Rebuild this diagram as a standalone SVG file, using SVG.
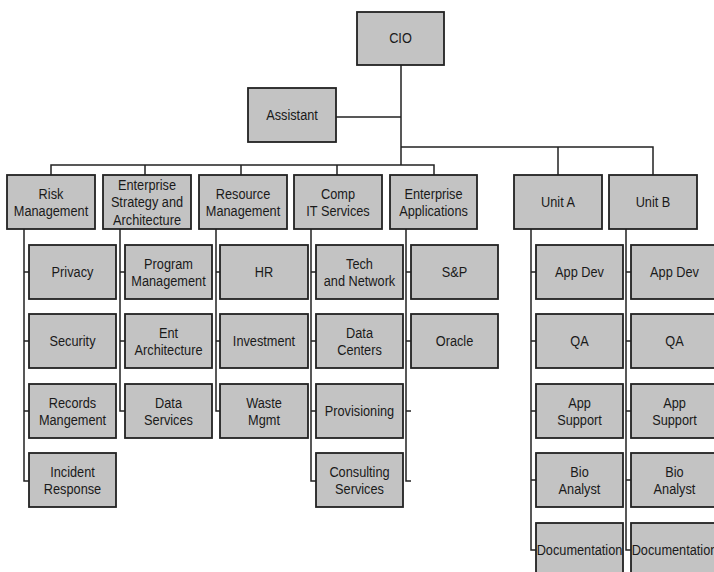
<svg xmlns="http://www.w3.org/2000/svg" width="714" height="572" viewBox="0 0 714 572">
<style>
.b{fill:#c3c3c3;stroke:#222;stroke-width:1.8}
.c{fill:none;stroke:#222;stroke-width:1.5}
text{font-family:'Liberation Sans',Arial,sans-serif;font-size:15px;fill:#1a1a1a;text-anchor:middle;transform-box:fill-box;transform-origin:center;transform:scaleX(0.85)}
</style>
<rect width="714" height="572" fill="#fff"/>
<g id="connectors" class="c">
<path d="M401 65 V165 M336 117 H401 M401 147 H653 V175 M558 147 V175"/>
<path d="M51 175 V165 H434 V175 M145 165 V175 M241 165 V175 M337 165 V175"/>
<path d="M24 229 V481 H29 M24 272 H29 M24 341 H29 M24 411 H29"/>
<path d="M120 229 V411 H125 M120 272 H125 M120 341 H125"/>
<path d="M216 229 V411 H220 M216 272 H220 M216 341 H220"/>
<path d="M311 229 V481 H316 M311 272 H316 M311 341 H316 M311 411 H316"/>
<path d="M406 229 V481 H411 M406 272 H411 M406 341 H411 M406 411 H411"/>
<path d="M531 229 V550 H536 M531 272 H536 M531 341 H536 M531 411 H536 M531 480 H536"/>
<path d="M626 229 V550 H631 M626 272 H631 M626 341 H631 M626 411 H631 M626 480 H631"/>
</g>
<g id="cio"><rect class="b" x="357" y="12" width="87" height="53"/><text x="400.5" y="43.5">CIO</text></g>
<g id="assistant"><rect class="b" x="248" y="88" width="88" height="54"/><text x="292" y="120">Assistant</text></g>

<g id="risk"><rect class="b" x="7" y="175" width="88" height="54"/><text x="51" y="199">Risk</text><text x="51" y="216.5">Management</text></g>
<g id="esa"><rect class="b" x="103" y="175" width="88" height="54"/><text x="147" y="190">Enterprise</text><text x="147" y="207.5">Strategy and</text><text x="147" y="225">Architecture</text></g>
<g id="resource"><rect class="b" x="199" y="175" width="88" height="54"/><text x="243" y="199">Resource</text><text x="243" y="216.5">Management</text></g>
<g id="compit"><rect class="b" x="294" y="175" width="88" height="54"/><text x="338" y="199">Comp</text><text x="338" y="216.5">IT Services</text></g>
<g id="entapps"><rect class="b" x="390" y="175" width="87" height="54"/><text x="433.5" y="199">Enterprise</text><text x="433.5" y="216.5">Applications</text></g>
<g id="unita"><rect class="b" x="514" y="175" width="88" height="54"/><text x="558" y="207">Unit A</text></g>
<g id="unitb"><rect class="b" x="609" y="175" width="88" height="54"/><text x="653" y="207">Unit B</text></g>

<g id="privacy"><rect class="b" x="29" y="245" width="87" height="54"/><text x="72.5" y="277">Privacy</text></g>
<g id="security"><rect class="b" x="29" y="314" width="87" height="54"/><text x="72.5" y="346">Security</text></g>
<g id="records"><rect class="b" x="29" y="384" width="87" height="54"/><text x="72.5" y="408">Records</text><text x="72.5" y="425.5">Mangement</text></g>
<g id="incident"><rect class="b" x="29" y="453" width="87" height="54"/><text x="72.5" y="477">Incident</text><text x="72.5" y="494.5">Response</text></g>

<g id="program"><rect class="b" x="125" y="245" width="87" height="54"/><text x="168.5" y="269">Program</text><text x="168.5" y="286.5">Management</text></g>
<g id="entarch"><rect class="b" x="125" y="314" width="87" height="54"/><text x="168.5" y="338">Ent</text><text x="168.5" y="355.5">Architecture</text></g>
<g id="dataservices"><rect class="b" x="125" y="384" width="87" height="54"/><text x="168.5" y="408">Data</text><text x="168.5" y="425.5">Services</text></g>

<g id="hr"><rect class="b" x="220" y="245" width="88" height="54"/><text x="264" y="277">HR</text></g>
<g id="investment"><rect class="b" x="220" y="314" width="88" height="54"/><text x="264" y="346">Investment</text></g>
<g id="waste"><rect class="b" x="220" y="384" width="88" height="54"/><text x="264" y="408">Waste</text><text x="264" y="425.5">Mgmt</text></g>

<g id="technet"><rect class="b" x="316" y="245" width="87" height="54"/><text x="359.5" y="269">Tech</text><text x="359.5" y="286.5">and Network</text></g>
<g id="datacenters"><rect class="b" x="316" y="314" width="87" height="54"/><text x="359.5" y="338">Data</text><text x="359.5" y="355.5">Centers</text></g>
<g id="provisioning"><rect class="b" x="316" y="384" width="87" height="54"/><text x="359.5" y="416">Provisioning</text></g>
<g id="consulting"><rect class="b" x="316" y="453" width="87" height="54"/><text x="359.5" y="477">Consulting</text><text x="359.5" y="494.5">Services</text></g>

<g id="sp"><rect class="b" x="411" y="245" width="87" height="54"/><text x="454.5" y="277">S&amp;P</text></g>
<g id="oracle"><rect class="b" x="411" y="314" width="87" height="54"/><text x="454.5" y="346">Oracle</text></g>

<g id="a-appdev"><rect class="b" x="536" y="245" width="87" height="54"/><text x="579.5" y="277">App Dev</text></g>
<g id="a-qa"><rect class="b" x="536" y="314" width="87" height="54"/><text x="579.5" y="346">QA</text></g>
<g id="a-appsupport"><rect class="b" x="536" y="384" width="87" height="54"/><text x="579.5" y="408">App</text><text x="579.5" y="425.5">Support</text></g>
<g id="a-bio"><rect class="b" x="536" y="453" width="87" height="54"/><text x="579.5" y="477">Bio</text><text x="579.5" y="494.5">Analyst</text></g>
<g id="a-doc"><rect class="b" x="536" y="523" width="87" height="54"/><text x="579.5" y="555">Documentation</text></g>

<g id="b-appdev"><rect class="b" x="631" y="245" width="87" height="54"/><text x="674.5" y="277">App Dev</text></g>
<g id="b-qa"><rect class="b" x="631" y="314" width="87" height="54"/><text x="674.5" y="346">QA</text></g>
<g id="b-appsupport"><rect class="b" x="631" y="384" width="87" height="54"/><text x="674.5" y="408">App</text><text x="674.5" y="425.5">Support</text></g>
<g id="b-bio"><rect class="b" x="631" y="453" width="87" height="54"/><text x="674.5" y="477">Bio</text><text x="674.5" y="494.5">Analyst</text></g>
<g id="b-doc"><rect class="b" x="631" y="523" width="87" height="54"/><text x="674.5" y="555">Documentation</text></g>
</svg>
